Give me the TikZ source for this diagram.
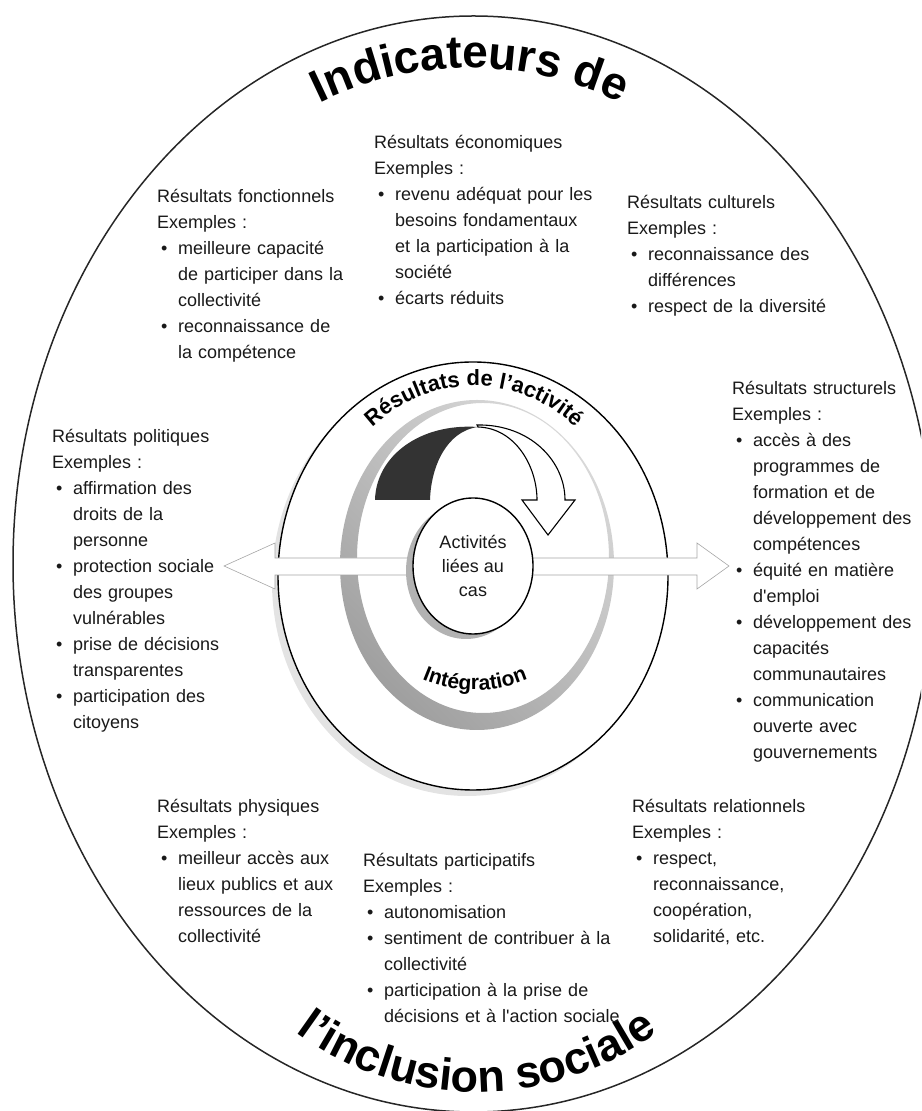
\documentclass[tikz,border=0pt]{standalone}
\usepackage{fontspec}
\setmainfont{Liberation Sans}
\usetikzlibrary{decorations.text}
\newcommand\bul{\makebox[21pt][l]{\hspace*{4pt}•}}
\newcommand\ind{\hspace*{21pt}}
\tikzset{
  blk/.style={anchor=base west, inner sep=0pt, text width=290pt, align=left,
              font=\fontsize{18}{26}\selectfont, text=black!90},
  arrowband/.style={fill=white, draw=gray!70, line width=0.6pt},
  curvtext/.style={decorate, decoration={text along path, text align=center, text={#1}}}
}
\begin{document}
\begin{tikzpicture}[x=1pt,y=1pt]
\useasboundingbox (0,0) rectangle (921,1111);
\clip (0,0) rectangle (921,1111);
% outer ellipse
\draw[line width=1.5pt, black!85] (473.5,547) ellipse [x radius=460.5, y radius=548];
% middle ellipse with shadow
\fill[gray!22] (467,529) ellipse [x radius=195, y radius=214];
\draw[line width=1.4pt, fill=white] (473,535) ellipse [x radius=195, y radius=214];
% grey ring
\shade[even odd rule, top color=gray!30, bottom color=gray!75, shading angle=-45]
  (477,546) ellipse [x radius=137, y radius=165]
  (483,553) ellipse [x radius=126, y radius=155];
% curved arrow
\fill[black!80] (375,611) -- (430,611) .. controls (431,645) and (447,680) .. (478,684)
  .. controls (420,688) and (376,655) .. (375,611) -- cycle;
\draw[fill=white, line width=1.1pt, line join=miter] (477,686) .. controls (530,687) and (565,650) .. (565,611)
  -- (575,611) -- (548,576) -- (522,611) -- (537,611)
  .. controls (537,645) and (515,683) .. (478,684) -- cycle;
% curved labels
\path[curvtext={|\fontsize{22}{22}\selectfont\bfseries|Résultats de l’activité}]
  (474,537) ++(155:163 and 188) arc[start angle=155, end angle=25, x radius=163, y radius=188];
\path[curvtext={|\fontsize{21}{21}\selectfont\bfseries|Intégration}]
  (475,556) ++(230:135) arc[start angle=230, end angle=310, radius=135];
\path[curvtext={|\fontsize{46}{46}\selectfont\bfseries|Indicateurs de}]
  (470,703) ++(150:340) arc[start angle=150, end angle=30, radius=340];
\path[curvtext={|\fontsize{45}{45}\selectfont\bfseries|l’inclusion sociale}]
  (477,324) ++(220:305) arc[start angle=220, end angle=320, radius=305];
% horizontal arrows
\draw[arrowband] (473,553) -- (275,553) -- (275,568) -- (224,545) -- (275,522) -- (275,536) -- (473,536) -- cycle;
\draw[arrowband] (473,553) -- (697,553) -- (697,568) -- (729,545) -- (697,522) -- (697,536) -- (473,536) -- cycle;
% inner circle
\fill[gray!60] (466,540) ellipse [x radius=60, y radius=68];
\draw[line width=1.4pt, fill=white] (473,545) ellipse [x radius=60, y radius=68];
\node[name=act, align=center, inner sep=0pt, font=\fontsize{18}{24}\selectfont, text=black!90] at (473,545) {Activités\\liées au\\cas};
% text blocks
\node[blk, name=fonc] at (157,908) {Résultats fonctionnels\\Exemples :\\\bul meilleure capacité\\\ind de participer dans la\\\ind collectivité\\\bul reconnaissance de\\\ind la compétence};
\node[blk, name=econ] at (374,962) {Résultats économiques\\Exemples :\\\bul revenu adéquat pour les\\\ind besoins fondamentaux\\\ind et la participation à la\\\ind société\\\bul écarts réduits};
\node[blk, name=cult] at (627,902) {Résultats culturels\\Exemples :\\\bul reconnaissance des\\\ind différences\\\bul respect de la diversité};
\node[blk, name=struc] at (732,716) {Résultats structurels\\Exemples :\\\bul accès à des\\\ind programmes de\\\ind formation et de\\\ind développement des\\\ind compétences\\\bul équité en matière\\\ind d\textquotesingle emploi\\\bul développement des\\\ind capacités\\\ind communautaires\\\bul communication\\\ind ouverte avec\\\ind gouvernements};
\node[blk, name=poli] at (52,668) {Résultats politiques\\Exemples :\\\bul affirmation des\\\ind droits de la\\\ind personne\\\bul protection sociale\\\ind des groupes\\\ind vulnérables\\\bul prise de décisions\\\ind transparentes\\\bul participation des\\\ind citoyens};
\node[blk, name=phys] at (157,298) {Résultats physiques\\Exemples :\\\bul meilleur accès aux\\\ind lieux publics et aux\\\ind ressources de la\\\ind collectivité};
\node[blk, name=part] at (363,244) {Résultats participatifs\\Exemples :\\\bul autonomisation\\\bul sentiment de contribuer à la\\\ind collectivité\\\bul participation à la prise de\\\ind décisions et à l\textquotesingle action sociale};
\node[blk, name=rela] at (632,298) {Résultats relationnels\\Exemples :\\\bul respect,\\\ind reconnaissance,\\\ind coopération,\\\ind solidarité, etc.};
\end{tikzpicture}
\end{document}
